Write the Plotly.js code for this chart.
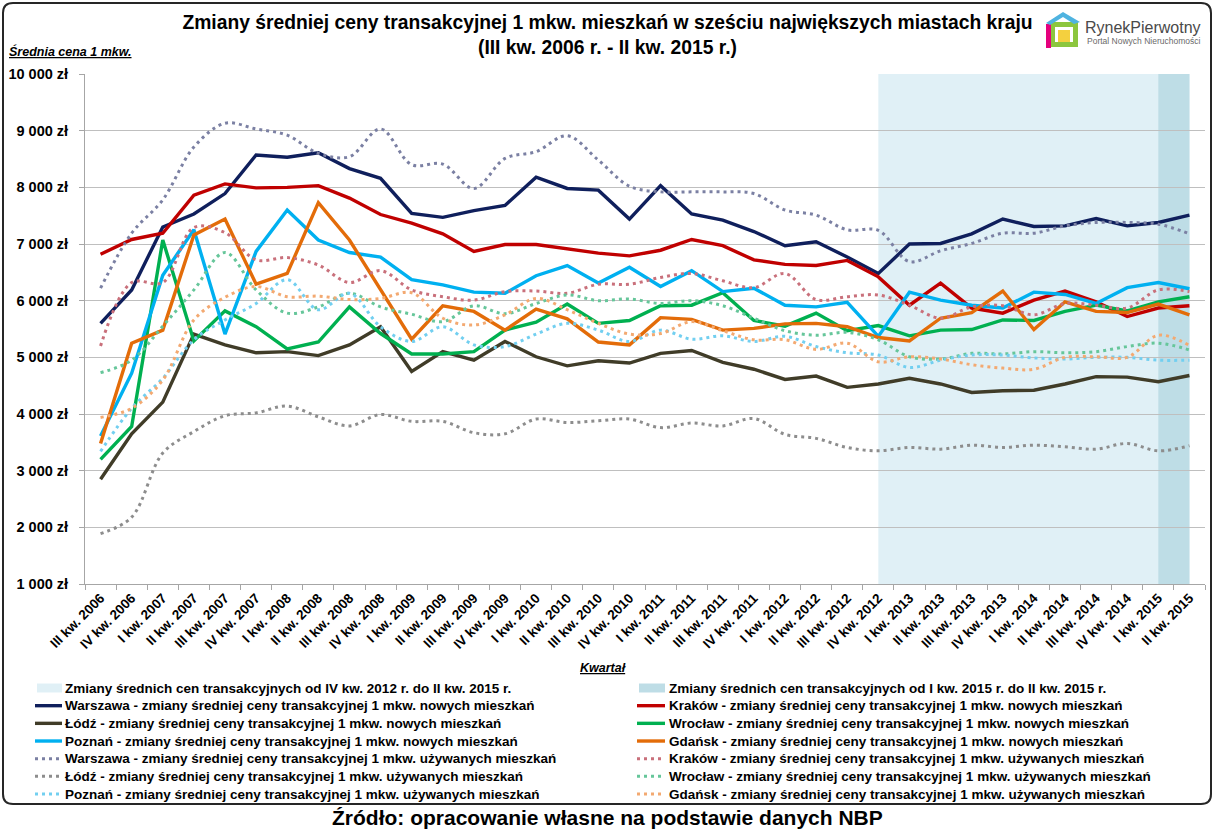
<!DOCTYPE html>
<html><head><meta charset="utf-8">
<script src="https://cdn.plot.ly/plotly-3.0.1.min.js"></script>
<style>html,body{margin:0;padding:0;background:#fff;}#chart{width:1215px;height:830px;}</style>
</head><body><div id="chart"></div>
<script>
const quarters = ["III kw. 2006","IV kw. 2006","I kw. 2007","II kw. 2007","III kw. 2007","IV kw. 2007","I kw. 2008","II kw. 2008","III kw. 2008","IV kw. 2008","I kw. 2009","II kw. 2009","III kw. 2009","IV kw. 2009","I kw. 2010","II kw. 2010","III kw. 2010","IV kw. 2010","I kw. 2011","II kw. 2011","III kw. 2011","IV kw. 2011","I kw. 2012","II kw. 2012","III kw. 2012","IV kw. 2012","I kw. 2013","II kw. 2013","III kw. 2013","IV kw. 2013","I kw. 2014","II kw. 2014","III kw. 2014","IV kw. 2014","I kw. 2015","II kw. 2015"];

const warszawaNew = [5600,6190,7300,7530,7890,8570,8530,8610,8330,8160,7540,7470,7590,7680,8180,7980,7950,7440,8030,7530,7420,7220,6970,7040,6770,6480,7000,7010,7180,7440,7310,7320,7450,7320,7380,7510];
const krakowNew = [6820,7080,7190,7860,8060,7990,8000,8030,7810,7520,7370,7180,6870,6990,6990,6920,6840,6790,6890,7080,6970,6720,6640,6620,6710,6420,5920,6310,5870,5780,6010,6170,5980,5720,5870,5910];
const lodzNew = [2850,3650,4210,5410,5220,5080,5100,5030,5220,5540,4750,5100,4950,5280,5010,4850,4940,4900,5070,5120,4910,4790,4610,4670,4470,4530,4630,4530,4380,4410,4420,4530,4660,4650,4570,4680];
const wroclawNew = [3200,3780,7070,5290,5820,5540,5150,5270,5890,5420,5060,5060,5100,5480,5620,5940,5600,5650,5910,5920,6140,5650,5550,5780,5470,5560,5380,5480,5490,5660,5650,5810,5920,5820,5980,6070];
const poznanNew = [3610,4720,6450,7250,5410,6870,7600,7070,6850,6770,6370,6280,6150,6130,6440,6620,6310,6590,6250,6530,6160,6220,5920,5890,5970,5370,6150,6010,5920,5870,6150,6110,5950,6230,6320,6210];
const gdanskNew = [3480,5250,5480,7160,7440,6290,6480,7730,7070,6190,5320,5910,5810,5480,5850,5680,5270,5220,5700,5670,5480,5510,5590,5600,5540,5350,5290,5690,5790,6170,5490,5980,5810,5790,5940,5750];

const warszawaUsed = [6220,7190,7780,8710,9130,9030,8920,8600,8540,9030,8400,8410,7980,8510,8630,8910,8480,8020,7920,7920,7920,7890,7600,7510,7250,7240,6690,6880,7010,7190,7190,7320,7380,7380,7350,7180];
const krakowUsed = [5200,6320,6320,7290,7200,6720,6760,6630,6320,6530,6190,6070,6010,6160,6170,6130,6290,6290,6410,6480,6350,6230,6480,6020,6070,6100,5920,5690,5890,5910,5750,5950,5920,5870,6190,6160];
const lodzUsed = [1890,2180,3310,3690,3970,4020,4140,3950,3790,3990,3870,3870,3670,3650,3910,3850,3880,3910,3760,3840,3790,3920,3640,3570,3410,3350,3410,3380,3450,3410,3450,3420,3380,3480,3350,3440];
const wroclawUsed = [4730,4950,5550,6190,6850,6190,5780,5890,6130,5890,5760,5630,5910,5770,5950,6100,6000,6030,5950,6000,5910,5690,5470,5390,5440,5310,5010,4970,5070,5060,5100,5080,5100,5190,5250,5130];
const poznanUsed = [3340,4100,4630,5310,5660,5950,6370,5840,6130,5540,5280,5540,5220,5190,5410,5600,5480,5280,5480,5320,5380,5280,5370,5190,5080,5040,4820,4950,5040,5040,4990,4970,5000,5000,4950,4950];
const gdanskUsed = [3940,4100,4600,5660,6060,6250,6070,6080,6020,6040,6140,5690,5570,5750,6040,5840,5600,5410,5420,5630,5470,5310,5310,5140,5250,4920,5010,4970,4870,4810,4790,5000,5010,5000,5390,5210];

const shadeRanges = [["IV kw. 2012","II kw. 2015"],["I kw. 2015","II kw. 2015"]];
const shadeNames = ["Zmiany średnich cen transakcyjnych od IV kw. 2012 r. do II kw. 2015 r.","Zmiany średnich cen transakcyjnych od I kw. 2015 r. do II kw. 2015 r."];
const cities = ["Warszawa","Kraków","Łódź","Wrocław","Poznań","Gdańsk"];
const newSeries = [warszawaNew,krakowNew,lodzNew,wroclawNew,poznanNew,gdanskNew];
const usedSeries = [warszawaUsed,krakowUsed,lodzUsed,wroclawUsed,poznanUsed,gdanskUsed];

const FONT = "Liberation Sans, Arial, sans-serif";
const newColors = ["#0f1f5c","#c00000","#403c28","#00b050","#00b0f0","#e36c09"];
const usedColors = ["#7b80a3","#c9707b","#8d8d8d","#66c69a","#72cff0","#f3a971"];
const shadeColors = ["#e0f0f6","#bedde6"];

// plot area in pixels
const L = 85, R = 1205, T = 74, B = 584;
const W = R - L, H = B - T;
const pxX = x => (x - L) / W;
const pxY = y => (B - y) / H;

const traces = [];
const legendItems = [];
shadeNames.forEach((n,i)=>legendItems.push({type:'rect', name:n, color:shadeColors[i]}));
cities.forEach((c,i)=>{
  const name = c + " - zmiany średniej ceny transakcyjnej 1 mkw. nowych mieszkań";
  traces.push({type:'scatter', mode:'lines', x:quarters, y:newSeries[i], name:name,
    line:{color:newColors[i], width:3.4}, showlegend:false, hoverinfo:'x+y+name'});
  legendItems.push({type:'line', name:name, color:newColors[i], dash:'solid', width:3.4});
});
cities.forEach((c,i)=>{
  const name = c + " - zmiany średniej ceny transakcyjnej 1 mkw. używanych mieszkań";
  traces.push({type:'scatter', mode:'lines', x:quarters, y:usedSeries[i], name:name,
    line:{color:usedColors[i], width:3, dash:'3px,4px', shape:'spline', smoothing:1}, showlegend:false, hoverinfo:'x+y+name'});
  legendItems.push({type:'line', name:name, color:usedColors[i], dash:'3px,4px', width:3});
});

const shapes = [];
const annotations = [];

shadeRanges.forEach((r,i)=>{
  shapes.push({type:'rect', xref:'x', yref:'paper', x0:quarters.indexOf(r[0]), x1:quarters.indexOf(r[1]),
    y0:0, y1:1, fillcolor:shadeColors[i], line:{width:0}, layer:'below'});
});

// custom legend (two columns, row-wise)
const legRow0 = 688, legRowH = 17.67;
const colSym = [[35,62],[637,665]], colText = [63,667];
legendItems.forEach((it,k)=>{
  const col = k % 2, row = Math.floor(k/2);
  const yc = legRow0 + row*legRowH;
  if(it.type==='rect'){
    shapes.push({type:'rect', xref:'paper', yref:'paper', x0:pxX(colSym[col][0]+2), x1:pxX(colSym[col][1]),
      y0:pxY(yc-4.5), y1:pxY(yc+4.5), fillcolor:it.color, line:{width:0}});
  } else {
    shapes.push({type:'line', xref:'paper', yref:'paper', x0:pxX(colSym[col][0]), x1:pxX(colSym[col][1]),
      y0:pxY(yc), y1:pxY(yc), line:{color:it.color, width:it.width, dash:it.dash}});
  }
  annotations.push({xref:'paper', yref:'paper', x:pxX(colText[col]), y:pxY(yc), xanchor:'left', yanchor:'middle',
    text:it.name, showarrow:false, font:{family:FONT, size:13.5, color:'#000', weight:'bold'}});
});

// outer rounded border
(function(){
  const x0=3,x1=1211,y0=3,y1=804,r=10;
  const p = (x,y)=>pxX(x)+','+pxY(y);
  const path = 'M'+p(x0+r,y0)+' L'+p(x1-r,y0)+' Q'+p(x1,y0)+' '+p(x1,y0+r)+' L'+p(x1,y1-r)+' Q'+p(x1,y1)+' '+p(x1-r,y1)+
    ' L'+p(x0+r,y1)+' Q'+p(x0,y1)+' '+p(x0,y1-r)+' L'+p(x0,y0+r)+' Q'+p(x0,y0)+' '+p(x0+r,y0)+' Z';
  shapes.push({type:'path', xref:'paper', yref:'paper', path:path, line:{color:'#262626', width:2}});
})();

// logo icon
(function(){
  const rect=(a,b,c,d,col)=>shapes.push({type:'rect',xref:'paper',yref:'paper',x0:pxX(a),x1:pxX(c),y0:pxY(d),y1:pxY(b),fillcolor:col,line:{width:0}});
  rect(1050,22,1078,47,'#8cc63e');
  rect(1055,27,1073,42,'#ffffff');
  rect(1058,30,1070,42,'#f4d03f');
  rect(1046,24,1051,48,'#e5007d');
  const p=(x,y)=>pxX(x)+','+pxY(y);
  shapes.push({type:'path',xref:'paper',yref:'paper',path:'M'+p(1046,23)+' L'+p(1063,12)+' L'+p(1080,22)+' L'+p(1074,24)+' L'+p(1063,17)+' L'+p(1050,25)+' Z',fillcolor:'#4fb3e0',line:{width:0}});
})();
annotations.push({xref:'paper',yref:'paper',x:pxX(1083),y:pxY(27),xanchor:'left',yanchor:'middle',showarrow:false,
  text:'RynekPierwotny',font:{family:FONT,size:16,color:'#4a4a4a'}});
annotations.push({xref:'paper',yref:'paper',x:pxX(1085),y:pxY(41),xanchor:'left',yanchor:'middle',showarrow:false,
  text:'Portal Nowych Nieruchomości',font:{family:FONT,size:8.5,color:'#6a6a6a'}});

// axis titles & source
annotations.push({xref:'paper',yref:'paper',x:pxX(7),y:pxY(52),xanchor:'left',yanchor:'middle',showarrow:false,
  text:'<b><i><u>Średnia cena 1 mkw.</u></i></b>',font:{family:FONT,size:12.5,color:'#000'}});
annotations.push({xref:'paper',yref:'paper',x:pxX(603),y:pxY(668),xanchor:'center',yanchor:'middle',showarrow:false,
  text:'<b><i><u>Kwartał</u></i></b>',font:{family:FONT,size:12.5,color:'#000'}});
annotations.push({xref:'paper',yref:'paper',x:pxX(607),y:pxY(817),xanchor:'center',yanchor:'middle',showarrow:false,
  text:'<b>Źródło: opracowanie własne na podstawie danych NBP</b>',font:{family:FONT,size:21,color:'#000'}});

const layout = {
  width:1215, height:830,
  margin:{l:L, r:1215-R, t:T, b:830-B, pad:0},
  paper_bgcolor:'#ffffff', plot_bgcolor:'#ffffff',
  separators:', ',
  showlegend:false,
  title:{text:'<b>Zmiany średniej ceny transakcyjnej 1 mkw. mieszkań w sześciu największych miastach kraju<br>(III kw. 2006 r. - II kw. 2015 r.)</b>',
    font:{family:FONT,size:19.3,color:'#000'}, x:0.5, xref:'container', xanchor:'center', y:1-29/830, yref:'container', yanchor:'top'},
  xaxis:{type:'category', range:[-0.5,35.5], tickson:'boundaries', ticks:'outside', ticklen:5, tickcolor:'#a6a6a6',
    showgrid:false, showline:true, linecolor:'#a6a6a6', linewidth:1, tickangle:-45, automargin:false,
    tickfont:{family:FONT,size:13.5,color:'#000',weight:'bold'}, fixedrange:true},
  yaxis:{range:[1000,10000], dtick:1000, tick0:1000, tickformat:',d', ticksuffix:' zł', showgrid:true, gridcolor:'#bfbfbf', gridwidth:1,
    zeroline:false, showline:true, linecolor:'#a6a6a6', ticks:'outside', ticklen:5, tickcolor:'#a6a6a6', automargin:false,
    ticklabelstandoff:8, tickfont:{family:FONT,size:14.5,color:'#000',weight:'bold'}, fixedrange:true},
  shapes:shapes, annotations:annotations
};
Plotly.newPlot('chart', traces, layout, {displayModeBar:false, staticPlot:true});
</script></body></html>
